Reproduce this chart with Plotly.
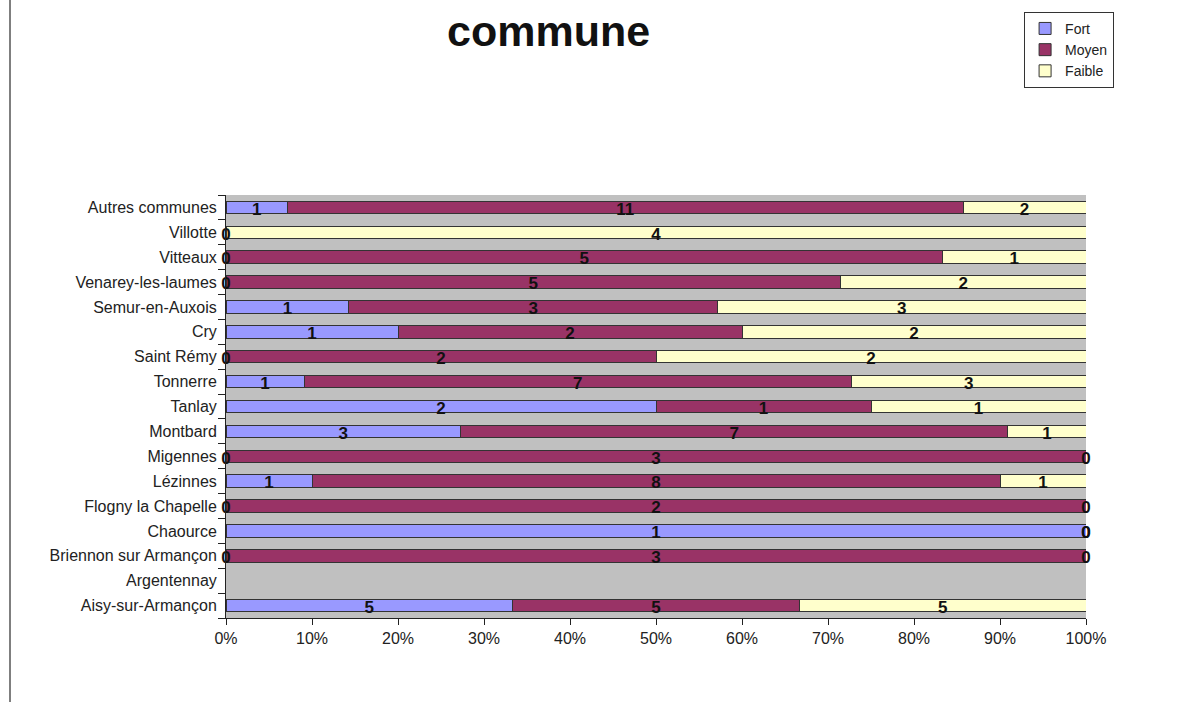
import plotly.graph_objects as go

communes = ["Aisy-sur-Armançon", "Argentennay", "Briennon sur Armançon", "Chaource",
            "Flogny la Chapelle", "Lézinnes", "Migennes", "Montbard", "Tanlay",
            "Tonnerre", "Saint Rémy", "Cry", "Semur-en-Auxois", "Venarey-les-laumes",
            "Vitteaux", "Villotte", "Autres communes"]
fort   = [5, None, 0, 1, 0, 1, 0, 3, 2, 1, 0, 1, 1, 0, 0, 0, 1]
moyen  = [5, None, 3, 0, 2, 8, 3, 7, 1, 7, 2, 2, 3, 5, 5, None, 11]
faible = [5, None, 0, 0, 0, 1, 0, 1, 1, 3, 2, 2, 3, 2, 1, 4, 2]

series = [("Fort", fort, "#9999FF"), ("Moyen", moyen, "#993366"), ("Faible", faible, "#FFFFCC")]
xticks = [0, 10, 20, 30, 40, 50, 60, 70, 80, 90, 100]

fig = go.Figure()
for name, vals, col in series:
    fig.add_trace(go.Bar(
        y=communes, x=[v if v is not None else 0 for v in vals], name=name, orientation="h",
        marker=dict(color=col, line=dict(color="#333333", width=1)), width=0.5,
        hoverinfo="skip"))

# value labels centred on each segment (percent positions)
lx, ly, lt = [], [], []
for i, c in enumerate(communes):
    vals = [s[1][i] for s in series]
    tot = sum(v for v in vals if v is not None)
    if tot == 0:
        continue
    cum = 0.0
    for v in vals:
        if v is None:
            continue
        p = v / tot * 100
        lx.append(cum + p / 2)
        ly.append(c)
        lt.append(f"<b>{v}</b>")
        cum += p
fig.add_trace(go.Scatter(x=lx, y=ly, text=lt, mode="text", showlegend=False, yaxis="y2",
                         textfont=dict(family="Liberation Sans", size=17, color="#111111"),
                         textposition="middle center", hoverinfo="skip", cliponaxis=False))

n = len(communes)
shift = 0.12
fig.update_layout(
    width=1200, height=702,
    barmode="stack", barnorm="percent",
    plot_bgcolor="#C0C0C0", paper_bgcolor="white",
    margin=dict(l=226, r=114, t=195, b=84),
    font=dict(family="Liberation Sans", size=16, color="#222222"),
    legend=dict(x=0.928, y=1.433, xanchor="left", yanchor="top", traceorder="normal",
                bordercolor="#333333", borderwidth=1, bgcolor="white",
                font=dict(size=14, color="#222222")),
    annotations=[dict(text="<b>commune</b>", xref="paper", yref="paper",
                      x=(548 - 226) / 860, y=(618 - 31) / 423, xanchor="center", yanchor="middle",
                      showarrow=False, font=dict(family="Liberation Sans", size=43, color="#111111"))],
    shapes=[dict(type="line", xref="paper", yref="paper", x0=(10 - 226) / 860, x1=(10 - 226) / 860,
                 y0=(618 - 702) / 423, y1=(618 - 0) / 423, line=dict(color="#555555", width=1.5))],
    yaxis2=dict(overlaying="y", type="category", categoryorder="array", categoryarray=communes,
                range=[-0.5 + shift, n - 0.5 + shift], visible=False, showgrid=False),
)
fig.update_xaxes(range=[0, 100], tickvals=xticks, ticktext=[f"{t}%" for t in xticks],
                 showgrid=False, zeroline=False, ticks="outside", ticklen=6, tickcolor="#222222",
                 showline=True, linecolor="#222222", linewidth=1, tickfont=dict(size=16))
fig.update_layout(yaxis=dict(categoryorder="array", categoryarray=communes, showgrid=False,
                             ticks="outside", tickson="boundaries", ticklen=7, tickcolor="#222222",
                             showline=True, linecolor="#222222", linewidth=1, tickfont=dict(size=16),
                             ticklabelstandoff=5, range=[-0.5, n - 0.5]))

fig.write_html("out.html")
